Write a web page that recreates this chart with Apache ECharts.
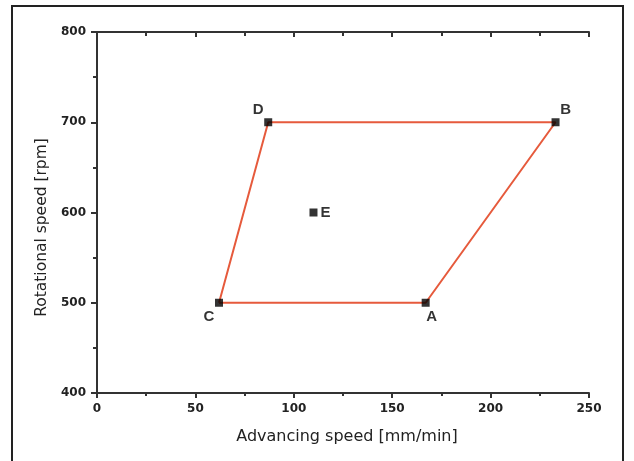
<!DOCTYPE html>
<html>
<head>
<meta charset="utf-8">
<script src="https://cdn.jsdelivr.net/npm/echarts@6/dist/echarts.min.js"></script>
<style>
  html, body { margin: 0; padding: 0; background: #fff; }
  #chart { width: 634px; height: 461px; }
</style>
</head>
<body>
<div id="chart"></div>
<script>
// process window points
const pointNames = ['A', 'B', 'C', 'D', 'E'];
const advSpeed = [167, 233, 62, 87, 110];   // mm/min
const rotSpeed = [500, 700, 500, 700, 600]; // rpm
const pathOrder = ['C', 'A', 'B', 'D', 'C']; // red boundary
const labelPos = { A: 'bottom', B: 'top', C: 'bottom', D: 'top', E: 'right' };
const labelOffset = { A: [6, 0], B: [10, 2], C: [-10, 0], D: [-10, 2], E: [0, 0] };

const pointData = pointNames.map((n, i) => ({
    name: n,
    value: [advSpeed[i], rotSpeed[i]],
    label: { position: labelPos[n], offset: labelOffset[n] }
}));
const pathData = pathOrder.map(n => {
    let i = pointNames.indexOf(n);
    return [advSpeed[i], rotSpeed[i]];
});

const axisFont = { color: '#222', fontSize: 12, fontWeight: 'bold', fontFamily: 'DejaVu Sans' };
const axLine = { lineStyle: { color: '#333', width: 2 } };
const tickStyle = { color: '#333', width: 2 };

var chart = echarts.init(document.getElementById('chart'));
chart.setOption({
    animation: false,
    backgroundColor: '#fff',
    graphic: [{
        type: 'rect',
        shape: { x: 12, y: 6, width: 611, height: 480 },
        style: { fill: 'none', stroke: '#222', lineWidth: 2 }
    }],
    grid: { left: 97, right: 45, top: 32, bottom: 68 },
    xAxis: [{
        type: 'value', min: 0, max: 250, interval: 50,
        name: 'Advancing speed [mm/min]', nameLocation: 'middle', nameGap: 36,
        nameTextStyle: { color: '#222', fontSize: 16, fontFamily: 'DejaVu Sans', padding: [0, 0, 0, 8] },
        axisLine: axLine,
        axisTick: { length: 5, lineStyle: tickStyle },
        minorTick: { show: true, splitNumber: 2, length: 3, lineStyle: tickStyle },
        axisLabel: Object.assign({ margin: 10 }, axisFont),
        splitLine: { show: false }
    }, {
        type: 'value', min: 0, max: 250, interval: 50, position: 'top',
        axisLine: axLine,
        axisTick: { inside: true, length: 5, lineStyle: tickStyle },
        minorTick: { show: true, splitNumber: 2, length: 4, lineStyle: tickStyle },
        axisLabel: { show: false },
        splitLine: { show: false }
    }],
    yAxis: [{
        type: 'value', min: 400, max: 800, interval: 100,
        name: 'Rotational speed [rpm]', nameLocation: 'middle', nameGap: 46,
        nameTextStyle: { color: '#222', fontSize: 15.5, fontFamily: 'DejaVu Sans', padding: [0, 30, 0, 0] },
        axisLine: axLine,
        axisTick: { length: 5, lineStyle: tickStyle },
        minorTick: { show: true, splitNumber: 2, length: 3, lineStyle: tickStyle },
        axisLabel: Object.assign({ margin: 11 }, axisFont),
        splitLine: { show: false }
    }, {
        type: 'value', min: 400, max: 800, interval: 100, position: 'right',
        axisLine: axLine,
        axisTick: { inside: true, length: 6, lineStyle: tickStyle },
        minorTick: { show: true, splitNumber: 2, length: 4, lineStyle: tickStyle },
        axisLabel: { show: false },
        splitLine: { show: false }
    }],
    series: [{
        type: 'line',
        data: pathData,
        symbol: 'none',
        lineStyle: { color: '#e65a3c', width: 2 },
        z: 2
    }, {
        type: 'scatter',
        data: pointData,
        symbol: 'rect',
        symbolSize: 8,
        itemStyle: { color: '#000' },
        label: {
            show: true,
            formatter: '{b}',
            color: '#000',
            fontSize: 15,
            fontWeight: 'bold',
            fontFamily: 'Liberation Sans',
            distance: 3
        },
        z: 3
    }]
});
</script>
</body>
</html>
